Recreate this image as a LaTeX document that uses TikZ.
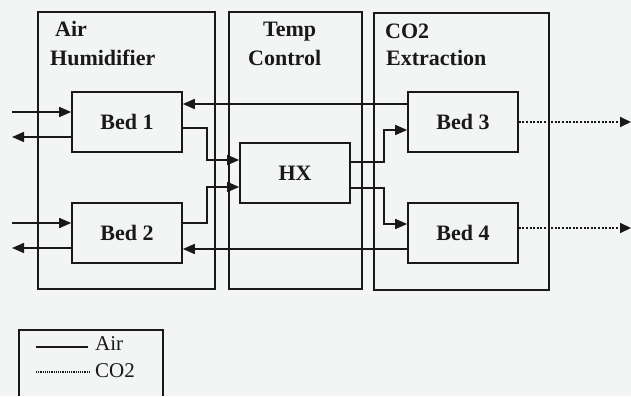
\documentclass[tikz,border=0pt]{standalone}
\usepackage{fontspec}
\setmainfont{Liberation Serif}
\usetikzlibrary{arrows.meta}
\definecolor{bg}{RGB}{243,245,245}
\definecolor{ink}{RGB}{25,25,25}
\begin{document}
\begin{tikzpicture}[x=1pt,y=-1pt,
  group/.style={draw=ink, line width=1.2pt, inner sep=0pt},
  bedbox/.style={draw=ink, line width=1.6pt, minimum width=110pt, minimum height=60pt, inner sep=0pt, text=ink, font=\fontsize{22}{26}\selectfont\bfseries},
  title/.style={anchor=base west, inner sep=0pt, text=ink, font=\fontsize{22}{26}\selectfont\bfseries},
  legtext/.style={anchor=base west, inner sep=0pt, text=ink, font=\fontsize{21}{25}\selectfont},
  airflow/.style={draw=ink, line width=1.6pt, -{Triangle[length=12pt,width=10pt]}},
  coflow/.style={draw=ink, line width=2pt, dash pattern=on 2pt off 1.6pt, -{Triangle[length=11pt,width=10pt]}},
]
\fill[bg] (0,0) rectangle (631,396);
\useasboundingbox (0,0) rectangle (631,396);

% group boxes
\node[group, minimum width=177pt, minimum height=277pt] (ah) at (126.5,150.5) {};
\node[group, minimum width=133pt, minimum height=277pt] (tc) at (295.5,150.5) {};
\node[group, minimum width=175pt, minimum height=277pt] (ce) at (461.5,151.5) {};

% titles
\node[title] (ah1) at (55,37) {Air};
\node[title] (ah2) at (50,65) {Humidifier};
\node[title] (tc1) at (263,37) {Temp};
\node[title] (tc2) at (248,65) {Control};
\node[title] (ce1) at (385,38) {CO2};
\node[title] (ce2) at (386,66) {Extraction};

% beds
\node[bedbox] (bed1) at (127,122) {Bed 1};
\node[bedbox] (bed2) at (127,233) {Bed 2};
\node[bedbox] (bed3) at (463,122) {Bed 3};
\node[bedbox] (bed4) at (463,233) {Bed 4};
\node[bedbox] (hx) at (295,173) {HX};

% free ends
\coordinate (in1) at (12,112);
\coordinate (out1) at (12,137);
\coordinate (in2) at (12,223);
\coordinate (out2) at (12,248);
\coordinate (co3) at (631,122);
\coordinate (co4) at (631,228);

% air connectors
\draw[airflow] (in1) -- ([yshift=10pt]bed1.west);
\draw[airflow] ([yshift=-15pt]bed1.west) -- (out1);
\draw[airflow] (in2) -- ([yshift=10pt]bed2.west);
\draw[airflow] ([yshift=-15pt]bed2.west) -- (out2);

\draw[airflow] ([yshift=18pt]bed3.west) -- ([yshift=18pt]bed1.east);
\draw[airflow] ([yshift=-16pt]bed4.west) -- ([yshift=-16pt]bed2.east);

\draw[airflow] ([yshift=-6pt]bed1.east) -- ++(24,0) |- ([yshift=13pt]hx.west);
\draw[airflow] ([yshift=10pt]bed2.east) -- ++(24,0) |- ([yshift=-14pt]hx.west);

\draw[airflow] ([yshift=11pt]hx.east) -- ++(33,0) |- ([yshift=-8pt]bed3.west);
\draw[airflow] ([yshift=-15pt]hx.east) -- ++(33,0) |- ([yshift=9pt]bed4.west);

% co2 connectors
\draw[coflow] (bed3.east) -- (co3);
\draw[coflow] ([yshift=5pt]bed4.east) -- (co4);

% legend
\coordinate (lg1) at (19,396);
\coordinate (lg2) at (19,330);
\coordinate (lg3) at (163,330);
\coordinate (lg4) at (163,396);
\draw[ink, line width=1.2pt] (lg1) -- (lg2) -- (lg3) -- (lg4);
\coordinate (la1) at (36,347);
\coordinate (la2) at (88,347);
\draw[ink, line width=1.4pt] (la1) -- (la2);
\node[legtext] (lair) at (95,350) {Air};
\coordinate (lc1) at (36,372);
\coordinate (lc2) at (89,372);
\draw[ink, line width=1.1pt, dash pattern=on 1.1pt off 1.1pt] (lc1) -- (lc2);
\node[legtext] (lco) at (95,377) {CO2};
\end{tikzpicture}
\end{document}
